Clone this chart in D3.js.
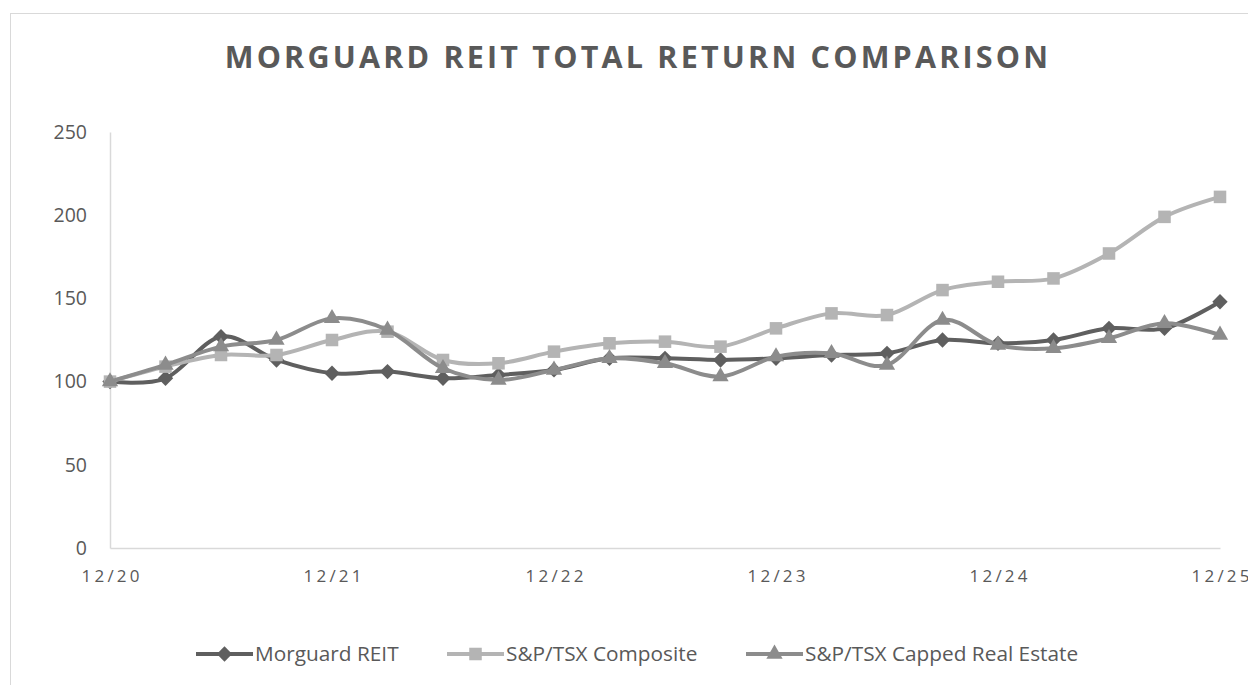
<!DOCTYPE html>
<html>
<head>
<meta charset="utf-8">
<script src="https://cdn.jsdelivr.net/npm/d3@7"></script>
<style>
  body { margin: 0; background: #fff; }
  svg text { font-family: "Open Sans", sans-serif; fill: #595959; }
</style>
</head>
<body>
<svg width="1248" height="685"></svg>
<script>
// quarterly points, 12/20 .. 12/25
var quarters = d3.range(0, 21);
var yearLabels = ["12/20", "12/21", "12/22", "12/23", "12/24", "12/25"];
var yTicks = [0, 50, 100, 150, 200, 250];

var morguard   = [100, 102, 127, 113, 105, 106, 102, 104, 107, 114, 114, 113, 114, 116, 117, 125, 123, 125, 132, 132, 148];
var composite  = [100, 109, 116, 116, 125, 130, 113, 111, 118, 123, 124, 121, 132, 141, 140, 155, 160, 162, 177, 199, 211];
var realEstate = [100, 110, 121, 125, 138, 131, 108, 101, 107, 114, 111, 103, 115, 117, 110, 137, 122, 120, 126, 135, 128];

var seriesNames = ["Morguard REIT", "S&P/TSX Composite", "S&P/TSX Capped Real Estate"];

var series = [
  {name: seriesNames[0], values: morguard,   color: "#5f5f5f", marker: d3.symbolDiamond2, size: 150},
  {name: seriesNames[1], values: composite,  color: "#b4b4b4", marker: d3.symbolSquare2,  size: 200},
  {name: seriesNames[2], values: realEstate, color: "#8c8c8c", marker: d3.symbolTriangle2, size: 190}
];

var svg = d3.select("svg"),
    margin = {top: 132, right: 28, bottom: 137, left: 110},
    width = 1220 - margin.left,
    height = 548 - margin.top;

// outer chart border, runs off the right and bottom of the picture
svg.append("rect")
    .attr("x", 10.5).attr("y", 13.5)
    .attr("width", 1300).attr("height", 800)
    .attr("fill", "none").attr("stroke", "#d9d9d9");

svg.append("text")
    .attr("x", 638).attr("y", 68)
    .attr("text-anchor", "middle")
    .style("font-size", "30.5px").style("font-weight", "bold").style("letter-spacing", "3.2px")
    .text("MORGUARD REIT TOTAL RETURN COMPARISON");

var x = d3.scaleLinear().domain([0, 20]).range([0, width]);
var y = d3.scaleLinear().domain([0, 250]).range([height, 0]);

var g = svg.append("g")
    .attr("transform", "translate(" + margin.left + "," + margin.top + ")");

// y axis
var yAxis = g.append("g").call(d3.axisLeft(y).tickValues(yTicks).tickSize(0).tickPadding(23));
yAxis.select(".domain").attr("stroke", "#d9d9d9").attr("stroke-width", 1.5);
yAxis.selectAll("text").style("font-size", "19.5px").attr("fill", "#595959");

// x axis
var xAxis = g.append("g")
    .attr("transform", "translate(0," + height + ")")
    .call(d3.axisBottom(x).tickValues([0, 4, 8, 12, 16, 20])
      .tickFormat(function(d, i) { return yearLabels[i]; })
      .tickSize(0).tickPadding(22));
xAxis.select(".domain").attr("stroke", "#d9d9d9").attr("stroke-width", 1.5);
xAxis.selectAll("text").style("font-size", "17px").style("letter-spacing", "3.2px")
    .attr("dx", "1.6px").attr("fill", "#595959");

var line = d3.line()
    .x(function(d, i) { return x(i); })
    .y(function(d) { return y(d); })
    .curve(d3.curveCatmullRom.alpha(0));

series.forEach(function(s) {
  var sg = g.append("g");
  sg.append("path")
      .datum(s.values)
      .attr("fill", "none")
      .attr("stroke", s.color)
      .attr("stroke-width", 4)
      .attr("d", line);
  sg.selectAll("path.mark").data(s.values).enter().append("path")
      .attr("class", "mark")
      .attr("transform", function(d, i) { return "translate(" + x(i) + "," + y(d) + ")"; })
      .attr("d", d3.symbol().type(s.marker).size(s.size))
      .attr("fill", s.color);
});

// legend
var legendX = [196, 447, 746];
var legend = svg.append("g").attr("transform", "translate(0,654)");
series.forEach(function(s, i) {
  var lg = legend.append("g").attr("transform", "translate(" + legendX[i] + ",0)");
  lg.append("line").attr("x1", 0).attr("x2", 57)
      .attr("stroke", s.color).attr("stroke-width", 4);
  lg.append("path").attr("transform", "translate(28.5,0)")
      .attr("d", d3.symbol().type(s.marker).size(s.size))
      .attr("fill", s.color);
  lg.append("text").attr("x", 59).attr("dy", "0.35em")
      .style("font-size", "20.8px")
      .text(s.name);
});
</script>
</body>
</html>
